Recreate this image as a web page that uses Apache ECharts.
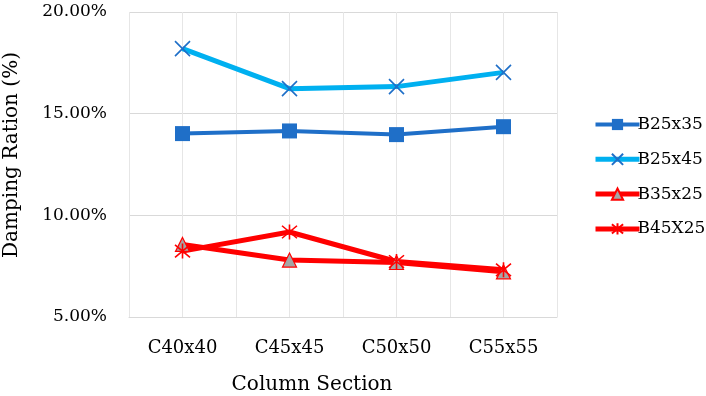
<!DOCTYPE html>
<html><head><meta charset="utf-8">
<script src="https://cdn.jsdelivr.net/npm/echarts@6/dist/echarts.min.js"></script>
<style>html,body{margin:0;padding:0;background:#fff}#c{width:706px;height:396px}</style>
</head><body><div id="c"></div>
<script>
const categories = ['C40x40', 'C45x45', 'C50x50', 'C55x55'];
const b25x35 = [14.02, 14.15, 13.97, 14.36];
const b25x45 = [18.20, 16.23, 16.33, 17.03];
const b35x25 = [8.57, 7.80, 7.68, 7.22];
const b45x25 = [8.24, 9.18, 7.73, 7.32];
const yTicks = [5, 10, 15, 20];
const seriesNames = ['B25x35', 'B25x45', 'B35x25', 'B45X25'];

const FONT = 'DejaVu Serif';
const xPath = 'path://M0,0L10,10M10,0L0,10';
const starPath = 'path://M0,0L10,10M10,0L0,10M5,-1L5,11';
const lineWidths = [4, 5, 5, 5];

const chart = echarts.init(document.getElementById('c'), null, {renderer: 'canvas'});
chart.setOption({
  animation: false,
  backgroundColor: '#fff',
  grid: {left: 129, right: 149, top: 12, bottom: 79, containLabel: false},
  legend: {
    orient: 'vertical', left: 588, top: 111, itemGap: 17.8,
    itemWidth: 44, itemHeight: 14,
    textStyle: {fontFamily: FONT, fontSize: 17, color: '#000', padding: [0,0,0,-7]},
    data: seriesNames.map((n, i) => ({name: n, lineStyle: {width: lineWidths[i]}}))
  },
  xAxis: [{
    type: 'category', data: categories, boundaryGap: true,
    axisLine: {show: true, lineStyle: {color: '#d9d9d9', width: 1}},
    axisTick: {show: false},
    splitLine: {show: false},
    axisLabel: {fontFamily: FONT, fontSize: 18, color: '#000', margin: 22}
  }, {
    type: 'category', data: ['', '', '', '', '', '', '', ''], boundaryGap: true,
    position: 'bottom', show: true,
    axisLine: {show: false}, axisTick: {show: false}, axisLabel: {show: false},
    splitLine: {show: true, lineStyle: {color: '#e6e6e6', width: 1}}
  }],
  yAxis: {
    type: 'value', min: 5, max: 20, interval: 5,
    axisLine: {show: false}, axisTick: {show: false},
    splitLine: {show: true, lineStyle: {color: '#d9d9d9', width: 1}},
    axisLabel: {fontFamily: FONT, fontSize: 17, color: '#000', margin: 22,
      formatter: v => yTicks.includes(v) ? v.toFixed(2) + '%' : ''}
  },
  graphic: [{
    type: 'text', x: 312, y: 385,
    style: {text: 'Column Section', font: '20px "DejaVu Serif"', fill: '#000', align: 'center', verticalAlign: 'middle'}
  }, {
    type: 'text', x: 12, y: 155, rotation: Math.PI / 2,
    style: {text: 'Damping Ration (%)', font: '20px "DejaVu Serif"', fill: '#000', align: 'center', verticalAlign: 'middle'}
  }],
  series: [{
    name: seriesNames[0], type: 'line', data: b25x35,
    symbol: 'rect', symbolSize: 15,
    lineStyle: {color: '#1F6FC8', width: lineWidths[0]},
    itemStyle: {color: '#1F6FC8', borderColor: '#1F6FC8', borderWidth: 0}
  }, {
    name: seriesNames[1], type: 'line', data: b25x45,
    symbol: xPath, symbolSize: 15,
    lineStyle: {color: '#00B0F0', width: lineWidths[1]},
    itemStyle: {color: 'none', borderColor: '#1F6FC8', borderWidth: 1.6}
  }, {
    name: seriesNames[2], type: 'line', data: b35x25,
    symbol: 'triangle', symbolSize: 14,
    lineStyle: {color: '#FF0000', width: lineWidths[2]},
    itemStyle: {color: '#A5A5A5', borderColor: '#FF0000', borderWidth: 1.2}
  }, {
    name: seriesNames[3], type: 'line', data: b45x25,
    symbol: starPath, symbolSize: 15,
    lineStyle: {color: '#FF0000', width: lineWidths[3]},
    itemStyle: {color: 'none', borderColor: '#FF0000', borderWidth: 1.6}
  }]
});
</script></body></html>
